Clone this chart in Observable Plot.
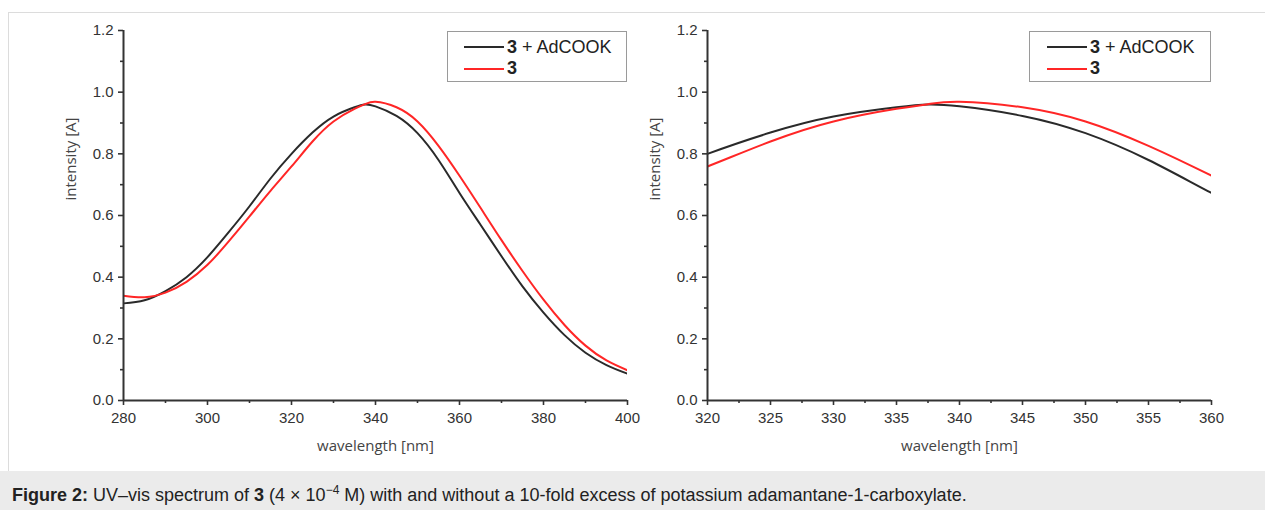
<!DOCTYPE html>
<html>
<head>
<meta charset="utf-8">
<script src="https://cdn.jsdelivr.net/npm/d3@7"></script>
<script src="https://cdn.jsdelivr.net/npm/@observablehq/plot@0.6"></script>
<style>
  html, body { margin: 0; padding: 0; background: #fff; width: 1265px; height: 510px; overflow: hidden; }
  #frame { position: absolute; left: 8px; top: 12px; width: 1257px; height: 459px; border-top: 1px solid #dcdcdc; border-left: 1px solid #dcdcdc; box-sizing: border-box; }
  .panel { position: absolute; top: 12px; }
  .legend { position: absolute; border: 1.5px solid #9a9a9a; background: #fff; box-sizing: border-box; font-family: "Liberation Sans", Arial, sans-serif; font-size: 18px; color: #222; }
  .legend .row { position: absolute; height: 20px; display: flex; align-items: center; white-space: nowrap; }
  .legend svg { margin-right: 3px; }
  #caption { position: absolute; left: 0; top: 471px; width: 1265px; height: 39px; background: #ebebeb; font-family: "Liberation Sans", Arial, sans-serif; font-size: 18px; color: #222; line-height: 38px; padding-left: 12px; box-sizing: border-box; white-space: nowrap; }
  .panel svg g[aria-label="x-axis tick label"] text, .panel svg g[aria-label="y-axis tick label"] text { font-size: 15px; }
</style>
</head>
<body>
<div id="frame"></div>
<div id="left" class="panel" style="left:0px"></div>
<div id="right" class="panel" style="left:632px"></div>
<div id="caption"><b>Figure 2:</b> UV–vis spectrum of <b>3</b> (4 × 10<sup style="font-size:12px">−4</sup> M) with and without a 10-fold excess of potassium adamantane-1-carboxylate.</div>
<script>
// ---- data ----
const wavelengths = [280,285,290,295,300,305,310,315,320,325,330,335,337.5,340,345,350,355,360,365,370,375,380,385,390,395,400];
const withAdCOOK  = [0.315,0.325,0.355,0.400,0.465,0.545,0.630,0.720,0.800,0.869,0.921,0.951,0.960,0.954,0.923,0.867,0.780,0.673,0.570,0.468,0.370,0.285,0.212,0.155,0.115,0.087];
const compound3   = [0.340,0.335,0.350,0.385,0.440,0.515,0.597,0.680,0.759,0.840,0.905,0.946,0.961,0.969,0.951,0.905,0.826,0.729,0.625,0.520,0.420,0.327,0.245,0.178,0.130,0.098];
const seriesNames = ["3 + AdCOOK", "3"];
const seriesColors = ["#2a2a2a", "#ff2626"];

const yMajor = [0, 0.2, 0.4, 0.6, 0.8, 1.0, 1.2];
const yMinor = [0.1, 0.3, 0.5, 0.7, 0.9, 1.1];
const xMajorLeft = [280, 300, 320, 340, 360, 380, 400];
const xMinorLeft = [290, 310, 330, 350, 370, 390];
const xMajorRight = [320, 325, 330, 335, 340, 345, 350, 355, 360];
const xMinorRight = [322.5, 327.5, 332.5, 337.5, 342.5, 347.5, 352.5, 357.5];
const xTitle = "wavelength [nm]";
const yTitle = "intensity [A]";

const rows = [];
seriesNames.forEach((name, s) => {
  const vals = s === 0 ? withAdCOOK : compound3;
  wavelengths.forEach((w, i) => rows.push({series: name, wavelength: w, intensity: vals[i]}));
});

const axisColor = "#333";
const tickFont = "Liberation Sans, Arial, sans-serif";

function panel({width, marginLeft, marginRight, xDomain, xMajor, xMinor}) {
  return Plot.plot({
    width, height: 458,
    marginLeft, marginRight, marginTop: 18, marginBottom: 70,
    style: {fontFamily: tickFont, fontSize: "15px", color: axisColor, background: "transparent", overflow: "visible"},
    x: {domain: xDomain, axis: null},
    y: {domain: [0, 1.2], axis: null},
    color: {domain: seriesNames, range: seriesColors},
    marks: [
      Plot.line(rows, {x: "wavelength", y: "intensity", stroke: "series", strokeWidth: 2, curve: "natural", clip: true}),
      Plot.axisX(xMajor, {label: null, tickSize: 5, tickPadding: 7, strokeWidth: 1.6, tickFormat: d3.format("d"), fill: axisColor, fontSize: 15}),
      Plot.axisX(xMinor, {label: null, tickSize: 3, strokeWidth: 1.6, tickFormat: () => ""}),
      Plot.axisY(yMajor, {label: null, tickSize: 5, tickPadding: 5, strokeWidth: 1.6, tickFormat: d3.format(".1f"), fill: axisColor, fontSize: 15}),
      Plot.axisY(yMinor, {label: null, tickSize: 3, strokeWidth: 1.6, tickFormat: () => ""}),
      Plot.ruleY([0], {stroke: axisColor, strokeWidth: 2}),
      Plot.ruleX([xDomain[0]], {stroke: axisColor, strokeWidth: 2}),
      Plot.text([xTitle], {frameAnchor: "bottom", dy: 50, fontFamily: "Open Sans, sans-serif", fontSize: 15, fill: "#444"}),
      Plot.text([yTitle], {frameAnchor: "left", rotate: -90, dx: -52, dy: -15, fontFamily: "Open Sans, sans-serif", fontSize: 15, fill: "#444"})
    ]
  });
}

document.getElementById("left").append(panel({width: 632, marginLeft: 123, marginRight: 5, xDomain: [280, 400], xMajor: xMajorLeft, xMinor: xMinorLeft}));
document.getElementById("right").append(panel({width: 633, marginLeft: 75, marginRight: 54, xDomain: [320, 360], xMajor: xMajorRight, xMinor: xMinorRight}));

function legend(left, top, width, height, lineX0, lineLen) {
  const box = document.createElement("div");
  box.className = "legend";
  Object.assign(box.style, {left: left + "px", top: top + "px", width: width + "px", height: height + "px"});
  seriesNames.forEach((name, i) => {
    const row = document.createElement("div");
    row.className = "row";
    Object.assign(row.style, {left: lineX0 + "px", top: (5 + i * 21.5) + "px"});
    const ns = "http://www.w3.org/2000/svg";
    const svg = document.createElementNS(ns, "svg");
    svg.setAttribute("width", lineLen); svg.setAttribute("height", 20);
    const ln = document.createElementNS(ns, "line");
    ln.setAttribute("x1", 0); ln.setAttribute("x2", lineLen); ln.setAttribute("y1", 10); ln.setAttribute("y2", 10);
    ln.setAttribute("stroke", seriesColors[i]); ln.setAttribute("stroke-width", 2);
    svg.append(ln);
    row.append(svg);
    const span = document.createElement("span");
    const parts = name.split(" ");
    span.innerHTML = "<b>" + parts[0] + "</b>" + (parts.length > 1 ? " " + parts.slice(1).join(" ") : "");
    row.append(span);
    box.append(row);
  });
  document.body.append(box);
}
legend(447, 31, 180, 51, 16, 40);
legend(1029, 31, 182, 51, 17, 40);
</script>
</body>
</html>
